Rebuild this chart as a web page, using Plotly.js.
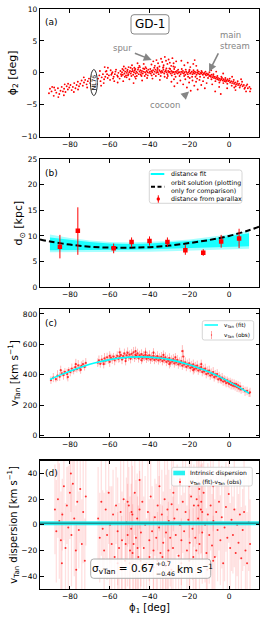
<!DOCTYPE html>
<html><head><meta charset="utf-8">
<script src="https://cdn.plot.ly/plotly-3.0.1.min.js"></script>
<style>html,body{margin:0;padding:0;background:#fff}#chart{width:266px;height:620px}</style>
</head><body><div id="chart"></div>
<script>
// ---------- DATA ----------
// (a) GD-1 member stars: [phi1, phi2] in deg
const starsA = [
[-90.5,-3.2],[-89.2,-2.9],[-88.1,-3.6],[-87.4,-2.7],[-86.8,-3.1],[-86.0,-2.4],[-85.3,-3.3],[-84.7,-2.8],[-84.1,-2.2],[-83.5,-2.9],
[-82.9,-2.5],[-82.2,-3.0],[-81.6,-2.1],[-81.0,-2.6],[-80.3,-2.3],[-79.7,-1.9],[-79.1,-2.7],[-78.5,-2.2],[-77.8,-1.6],[-77.2,-2.4],
[-76.6,-1.9],[-76.0,-1.4],[-75.4,-2.1],[-74.8,-1.7],[-74.1,-1.2],[-73.5,-2.0],[-72.9,-1.5],[-72.3,-1.1],[-71.6,-1.8],[-71.0,-1.3],
[-70.4,-0.9],[-69.8,-1.6],[-88.9,-2.2],[-83.0,-3.5],[-78.0,-3.0],
[-65.8,-0.9],[-65.2,-0.4],[-64.6,-1.3],[-64.0,-0.7],[-63.4,-0.2],[-62.8,-1.0],[-62.2,-0.6],[-61.6,0.3],[-61.0,-0.8],[-60.4,-0.4],
[-59.8,-1.1],[-59.2,-0.3],[-58.6,0.1],[-58.0,-0.6],[-57.4,-0.2],[-56.8,0.5],[-56.2,-0.4],[-55.6,0.0],[-55.0,-0.9],[-60.9,0.8],
[-63.0,-1.6],[-57.7,-1.3],[-59.5,0.4],[-62.0,0.2],[-64.9,0.3],[-56.0,-1.5],[-58.9,-0.1],[-61.3,-0.2],[-54.6,0.3],[-54.1,-0.5],
[-53.8,0.1],[-53.4,-0.3],[-53.0,0.4],[-52.6,-0.1],[-52.2,0.2],[-51.8,-0.4],[-51.4,0.0],[-51.0,0.5],[-50.6,-0.2],[-50.2,0.1],
[-49.8,0.3],[-49.4,-0.1],[-49.0,0.2],[-48.6,0.6],[-48.2,-0.3],[-47.8,0.1],[-47.4,0.4],[-47.0,-0.1],[-46.6,0.2],[-46.2,0.0],
[-45.8,0.5],[-45.4,-0.2],[-45.0,0.2],[-44.6,0.4],[-44.2,0.0],[-43.8,0.3],[-43.4,-0.1],[-43.0,0.2],[-42.6,0.6],[-42.2,0.1],
[-41.8,-0.2],[-41.4,0.3],[-41.0,0.1],[-40.6,0.5],[-40.2,0.0],[-52.9,1.0],[-50.1,-1.0],[-48.8,1.2],[-46.9,-0.9],[-45.1,1.1],
[-43.7,-1.2],[-42.0,0.9],[-51.5,-0.7],[-49.5,0.8],[-47.3,-0.6],[-44.8,0.9],[-53.2,-1.3],[-41.2,-0.8],[-46.0,1.5],[-48.0,-1.6],
[-52.0,0.7],[-44.0,-0.5],[-50.5,0.9],[-42.9,1.4],[-47.6,0.8],
[-39.8,0.2],[-39.4,-0.1],[-39.0,0.3],[-38.6,0.1],[-38.2,0.4],[-37.8,-0.2],[-37.4,0.2],[-37.0,0.5],[-36.6,0.0],[-36.2,0.3],
[-35.8,0.1],[-35.4,-0.2],[-35.0,0.4],[-34.6,0.2],[-34.2,0.0],[-33.8,0.3],[-33.4,0.1],[-33.0,0.5],[-32.6,-0.1],[-32.2,0.2],
[-31.8,0.4],[-31.4,0.1],[-31.0,-0.2],[-30.6,0.3],[-30.2,0.1],[-29.8,0.2],[-29.4,-0.1],[-29.0,0.3],[-28.6,0.0],[-28.2,0.2],
[-27.8,0.1],[-27.4,-0.2],[-27.0,0.2],[-26.6,0.0],[-26.2,0.3],[-25.8,-0.1],[-25.4,0.1],
[-39.0,1.3],[-38.1,1.8],[-37.3,1.1],[-36.5,2.0],[-35.7,1.5],[-35.0,1.0],[-34.2,2.2],[-33.6,1.7],[-32.9,1.2],[-32.3,2.5],
[-31.7,1.9],[-31.0,1.4],[-30.4,2.1],[-29.8,1.6],[-29.1,1.1],[-28.5,2.3],[-27.9,1.5],[-27.2,0.9],[-26.6,1.8],[-33.0,0.9],
[-36.0,0.8],[-30.0,0.7],[-28.0,1.0],[-24.0,1.9],[-22.5,1.2],[-20.8,1.6],[-19.5,0.9],[-18.0,1.4],[-16.5,1.1],[-17.3,2.0],
[-38.5,-0.9],[-34.8,-1.1],[-31.2,-0.8],[-27.7,-1.0],
[-24.8,0.1],[-24.4,-0.2],[-24.0,0.2],[-23.6,0.0],[-23.2,0.3],[-22.8,-0.1],[-22.4,0.1],[-22.0,-0.3],[-21.6,0.2],[-21.2,0.0],
[-20.8,-0.2],[-20.4,0.1],[-20.0,0.3],[-19.6,-0.1],[-19.2,0.0],[-18.8,0.2],[-18.4,-0.2],[-18.0,0.1],[-17.6,-0.1],[-17.2,0.2],
[-16.8,0.0],[-16.4,-0.3],[-16.0,0.1],[-15.6,-0.1],[-15.2,0.2],[-14.8,-0.2],[-14.4,0.0],[-14.0,-0.1],[-13.6,0.1],[-13.2,-0.3],
[-12.8,-0.1],[-12.4,0.0],[-12.0,-0.2],[-11.6,-0.4],[-11.2,-0.1],[-10.8,-0.3],[-10.4,-0.2],[-10.0,-0.5],
[-24.5,-1.2],[-23.1,-1.8],[-22.0,-1.0],[-21.2,-2.3],[-20.1,-1.5],[-19.3,-2.8],[-18.4,-1.2],[-17.5,-2.0],[-16.6,-1.4],[-15.8,-2.6],
[-14.9,-1.1],[-14.0,-1.9],[-13.1,-1.3],[-12.2,-2.4],[-11.3,-1.6],[-26.0,-1.6],[-27.5,-2.1],[-29.0,-1.4],[-19.8,-0.8],[-16.1,-0.9],
[-9.6,-0.4],[-9.2,-0.6],[-8.8,-0.3],[-8.4,-0.7],[-8.0,-0.5],[-7.6,-0.8],[-7.2,-0.6],[-6.8,-0.9],[-6.4,-0.7],[-6.0,-1.0],
[-5.6,-0.8],[-5.2,-1.1],[-4.8,-0.9],[-4.4,-1.2],[-4.0,-1.0],[-3.6,-0.8],[-3.2,-1.2],[-2.8,-1.0],[-2.4,-1.3],[-2.0,-1.1],
[-1.6,-1.4],[-1.2,-1.2],[-0.8,-1.0],[-0.4,-1.3],[0.0,-1.2],[0.5,-1.5],[1.0,-1.3],[1.5,-1.6],[2.0,-1.4],[2.5,-1.7],
[3.0,-1.5],[3.5,-1.8],[4.0,-1.6],[4.5,-1.9],[5.0,-1.7],[5.6,-2.0],[6.2,-1.8],[6.8,-2.1],[7.4,-1.9],[8.0,-2.3],
[8.7,-2.0],[9.4,-2.4],[10.2,-2.2],[10.8,-2.5],
[-8.5,-1.8],[-6.5,0.2],[-5.0,-2.2],[-3.0,-0.1],[-1.0,-2.4],[1.5,-0.6],[3.2,-2.7],[6.0,-1.0],[8.5,-2.9],[-7.0,-2.9],
[-4.2,-3.3],[2.6,-2.3],[-9.0,0.4],
[-58.3,-0.9],[-57.1,0.2],[-55.9,-0.6],[-54.3,-0.2],[-53.6,0.6],[-52.4,-0.6],[-51.2,0.3],[-50.8,-0.4],[-49.1,-0.5],[-48.4,0.3],
[-47.1,0.6],[-46.4,-0.5],[-45.6,0.8],[-44.4,-0.3],[-43.2,0.7],[-42.4,-0.5],[-41.6,0.7],[-40.9,-0.4],[-39.6,0.6],[-38.9,-0.4],
[-37.6,0.8],[-36.8,-0.5],[-35.9,0.6],[-34.4,-0.5],[-33.2,0.8],[-32.4,-0.6],[-31.5,0.7],[-30.8,-0.5],[-29.6,0.6],[-28.8,-0.4],
[-27.6,0.6],[-26.9,-0.6],[-25.6,0.5],[-24.9,-0.5],[-23.8,0.6],[-22.6,-0.5],[-21.8,0.5],[-20.6,-0.6],[-19.9,0.5],[-18.6,-0.6],
[-17.9,0.4],[-16.9,-0.6],[-15.9,0.4],[-14.6,-0.6],[-13.9,0.3],[-12.6,-0.7],[-11.9,0.2],[-10.6,-0.8],[-9.9,0.1],[-8.9,-1.0],
[-7.9,-0.2],[-6.9,-1.3],[-5.9,-0.5],[-4.9,-1.5],[-3.9,-0.6],[-2.9,-1.6],[-1.9,-0.8],[-0.9,-1.7],[0.3,-0.9],[1.3,-2.0],
[2.3,-1.1],[3.3,-2.1],[4.3,-1.3],[5.3,-2.3],[6.5,-1.4],[7.7,-2.5],[9.1,-1.8],[10.5,-2.9],[-66.5,-1.8],[-64.3,-2.0],
[-62.5,0.9],[-67.1,-0.3],[-87.9,-2.3],[-85.8,-3.8],[-80.9,-1.7],[-75.9,-2.6],[-73.0,-0.7],[-71.3,-2.3],[-90.0,-2.5],[-82.6,-1.8]
];

// (b) distances
const dfitPhi1   = [-90, -80, -70, -60, -50, -40, -30, -20, -10, 0, 10];
const dfitOuterHi= [10.3, 9.6, 9.1, 8.8, 8.7, 8.8, 9.0, 9.3, 9.8, 10.3, 11.0];
const dfitOuterLo= [6.8, 6.8, 6.8, 6.8, 6.9, 6.9, 7.0, 7.1, 7.2, 7.4, 7.5];
const dfitInnerHi= [9.7, 9.2, 8.8, 8.5, 8.4, 8.5, 8.7, 9.0, 9.4, 9.9, 10.5];
const dfitInnerLo= [7.2, 7.2, 7.2, 7.3, 7.3, 7.4, 7.5, 7.6, 7.7, 7.9, 8.0];
const orbitPhi1  = [-95, -90, -80, -70, -60, -50, -40, -30, -20, -10, 0, 10, 15];
const orbitDist  = [9.3, 8.9, 8.3, 7.9, 7.7, 7.7, 7.8, 8.1, 8.6, 9.2, 10.0, 11.1, 11.8];
const parPhi1    = [-85, -76, -58, -49, -40, -31, -22, -13, -4, 5];
const parDist    = [7.9, 11.0, 7.6, 8.8, 9.0, 8.8, 7.2, 6.7, 8.9, 9.5];
const parErrHi   = [2.3, 4.6, 0.9, 0.9, 0.9, 0.9, 1.0, 0.7, 1.3, 1.9];
const parErrLo   = [2.3, 4.7, 1.0, 1.0, 0.9, 0.9, 0.9, 0.6, 1.2, 1.9];

// (c) tangential velocity
const fitPhi1 = [-90,-85,-80,-75,-70,-65,-60,-55,-50,-45,-40,-35,-30,-25,-20,-15,-10,-5,0,5,10];
const fitVtan = [370,398,424,448,469,486,500,510,516,518,516,510,500,485,466,443,418,388,354,318,279];
// [phi1, vtan, err]
const vtanObs = [
[-89.5,365,25],[-88.3,382,30],[-87.0,371,20],[-86.2,395,35],[-85.1,388,28],[-84.0,410,22],[-83.2,398,30],[-82.5,420,25],
[-81.4,405,35],[-80.6,430,20],[-79.8,418,28],[-79.0,441,33],[-78.1,428,25],[-77.3,450,30],[-76.5,437,22],[-75.8,462,35],
[-75.0,445,26],[-74.2,458,30],[-73.4,470,28],[-72.6,452,24],[-72.0,478,32],[-84.6,430,30],[-77.0,470,35],[-81.0,385,28],[-74.6,432,25],
[-66.0,480,28],[-65.4,495,32],[-64.7,472,25],[-64.0,500,30],[-63.3,488,22],[-62.6,508,35],[-62.0,493,28],[-61.3,515,30],
[-60.7,497,25],[-60.0,485,33],[-59.4,512,27],[-58.7,502,30],[-58.1,520,24],[-57.5,495,32],[-56.8,510,28],[-56.2,525,30],
[-55.6,505,25],[-55.0,518,35],[-54.4,530,28],[-53.8,500,30],[-53.2,522,25],[-52.6,540,32],[-52.0,510,28],[-51.5,528,30],
[-51.0,545,35],[-50.5,515,25],[-50.0,532,28],[-49.5,505,30],[-49.0,538,32],[-48.5,520,25],[-48.0,548,35],[-47.5,512,28],
[-47.0,530,30],[-46.5,522,25],[-46.0,540,32],[-45.5,508,28],[-45.0,528,30],[-44.5,518,25],[-44.0,535,33],[-43.5,510,28],
[-43.0,525,30],[-42.5,515,24],[-42.0,532,32],[-41.5,505,27],[-41.0,522,30],[-40.5,512,25],[-40.0,528,33],[-39.5,500,28],
[-39.0,518,30],[-38.5,508,24],[-38.0,525,32],[-37.5,498,28],[-37.0,515,30],[-36.5,505,25],[-36.0,522,33],[-35.5,495,28],
[-35.0,512,30],[-34.5,502,25],[-34.0,518,32],[-33.5,490,28],[-33.0,508,30],[-32.5,498,24],[-32.0,515,33],[-31.5,485,28],
[-31.0,502,30],[-30.5,492,25],[-30.0,510,32],[-29.5,480,28],[-29.0,498,30],[-28.5,488,25],[-28.0,503,33],[-27.5,475,28],
[-27.0,492,30],[-26.5,482,24],[-26.0,498,32],[-25.5,468,28],[-25.0,485,30],[-24.5,475,25],[-24.0,490,33],[-23.5,460,28],
[-23.0,478,30],[-22.5,468,25],[-22.0,482,32],[-21.5,452,28],[-21.0,470,30],[-20.5,460,24],[-20.0,475,33],[-19.5,445,28],
[-19.0,462,30],[-18.5,450,25],[-18.0,468,32],[-17.5,438,28],[-17.0,455,30],[-16.5,442,25],[-16.0,460,33],[-15.5,428,28],
[-15.0,445,30],[-14.5,435,24],[-14.0,450,32],[-13.5,418,28],[-13.0,435,30],[-12.5,422,25],[-12.0,440,33],[-11.5,405,28],
[-11.0,425,30],[-10.5,410,25],[-10.0,428,32],[-9.5,395,28],[-9.0,412,30],[-8.5,400,25],[-8.0,418,33],[-7.5,384,28],
[-7.0,402,30],[-6.5,390,24],[-6.0,405,32],
[-55.0,548,30],[-47.0,555,30],[-38.0,545,30],[-52.0,490,28],[-44.0,495,25],[-33.0,530,30],[-27.0,515,28],[-23.5,555,40],
[-23.0,520,45],[-18.0,430,28],[-14.0,470,30],[-60.0,525,30],[-63.0,470,28],[-42.0,548,30],[-30.0,470,28],
[-5.5,370,25],[-5.0,390,30],[-4.5,376,28],[-4.0,365,25],[-3.5,382,30],[-3.0,356,28],[-2.5,372,25],[-2.0,360,30],
[-1.5,346,28],[-1.0,364,25],[-0.5,350,30],[0.0,340,28],[0.5,356,25],[1.0,334,30],[1.5,346,28],[2.0,328,25],
[2.5,340,30],[3.0,325,28],[3.5,338,25],[4.0,318,30],[4.5,330,28],[5.0,310,25],[5.5,322,30],[6.0,304,28],
[7.0,306,25],[8.0,292,30],[9.0,294,28],[10.0,280,25],[10.5,285,30]
];

// (d) residuals v_Tan(fit) - v_Tan(obs): [phi1, dv, err]
const vtanResid = [
[-87.5,12,35],[-86.8,-5,40],[-86.0,20,30],[-85.3,3,45],[-84.5,-12,38],[-83.8,8,28],[-83.0,30,42],[-82.2,-18,35],
[-81.5,15,30],[-80.8,-2,48],[-80.0,25,36],[-79.2,-8,40],[-78.5,32,30],[-77.8,5,45],[-77.0,-20,35],[-76.3,18,38],
[-75.5,-4,30],[-74.8,28,42],[-74.0,-15,35],[-73.3,10,40],[-72.5,-28,33],[-72.0,22,38],[-84.0,-30,40],[-79.5,40,30],[-76.8,-35,35],
[-65.8,5,40],[-65.0,-10,35],[-64.2,18,42],[-63.5,-3,30],[-62.8,-20,45],[-62.0,12,38],[-61.3,-8,35],[-60.5,25,40],
[-59.8,0,30],[-59.0,-15,45],[-58.3,8,35],[-57.5,-25,40],[-56.8,15,30],[-56.0,-5,42],[-55.3,-18,35],[-54.5,10,40],
[-53.8,-12,38],[-53.0,20,32],[-52.3,-28,45],[-51.6,2,35],[-51.0,-8,40],[-50.4,15,30],[-49.8,-20,42],[-49.2,-3,35],
[-48.6,8,38],[-48.0,-15,40],[-47.4,25,33],[-46.8,-10,45],[-46.2,5,35],[-45.6,-25,40],[-45.0,12,30],[-44.3,-6,42],
[-43.6,18,35],[-42.9,-18,40],[-42.2,0,38],[-41.5,-30,35],[-40.8,10,40],[-40.1,-12,32],[-39.4,22,45],[-38.7,-5,35],
[-38.0,-20,40],[-37.3,6,30],[-36.6,-10,42],[-35.9,15,35],[-35.2,-2,40],[-34.5,-22,38],[-33.8,8,35],[-33.1,-14,40],
[-32.4,20,30],[-31.7,-6,45],[-31.0,-28,35],[-30.3,3,40],[-29.6,-10,38],[-28.9,16,35],[-28.2,-18,40],[-27.5,5,32],
[-26.8,-8,42],[-26.1,12,35],[-25.4,-24,40],[-24.7,0,38],[-24.0,-12,35],[-23.3,18,40],[-22.6,-5,30],[-21.9,10,45],
[-21.2,-20,35],[-20.5,4,40],[-19.8,-14,38],[-19.1,22,35],[-18.4,-3,40],[-17.7,15,32],[-17.0,-10,42],[-16.3,20,35],
[-15.6,5,40],[-14.9,-15,38],[-14.2,12,35],[-13.5,-6,40],[-12.8,25,30],[-12.1,0,45],[-11.4,-22,35],[-10.7,8,40],
[-10.0,-8,38],[-9.3,15,35],[-8.6,-16,40],[-7.9,3,30],[-7.2,-25,45],[-6.5,10,35],[-5.8,-4,40],[-5.1,18,38],
[-4.4,-12,35],[-3.7,6,40],[-3.0,-30,32],[-2.3,-2,42],[-1.6,14,35],[-0.9,-10,40],[-0.2,24,38],[0.5,-18,35],
[1.2,4,40],[1.9,-8,30],[2.6,12,45],[3.3,-22,35],[4.0,0,40],[4.7,-14,38],[5.4,8,35],[6.1,-26,40],
[6.8,-4,32],[7.5,10,42],[8.2,-20,35],[9.0,-30,40],[9.8,2,38],[10.5,-15,35],
[-52.0,-15,35],[-50.0,-30,40],[-48.5,-22,38],[-47.0,-35,35],[-46.0,-18,40],[-44.5,-28,30],[-51.0,18,35],[-49.0,10,42],
[-33.5,-25,40],[-32.0,-32,35],[-30.5,-20,38],[-29.0,-35,35],[-31.0,12,40],[-28.0,25,30],[-15.5,15,38],[-15.0,28,35],
[-14.0,18,40],[-16.5,-20,35],[-13.5,10,38],[-56.0,-30,40],[-54.0,-35,42],[-40.0,-25,35],[-38.0,-33,40],[-36.0,-28,38],
[-24.0,-30,35],[-20.0,-28,40],[-18.0,-25,38],[-11.0,-35,40],[-8.0,-28,35],[-60.0,-38,40],[-45.0,35,38],[-35.0,30,35],
[-20.0,30,40],[-8.0,30,35]
];
const dispPhi1 = [-95, 15];
const dispLo   = [-0.4, -0.4];
const dispHi   = [2.9, 2.9];
const dispMid  = [1.2, 1.2];

// ---------- GEOMETRY HELPERS ----------
const ML = 40, MR = 7, MT = 9, MB = 31, FW = 266, FH = 620;
const PW = FW - ML - MR, PH = FH - MT - MB;
const X = px => (px - ML) / PW;
const Y = py => (FH - MB - py) / PH;
function rrect(x0, y0, x1, y1, r) {
  return `M${X(x0 + r)},${Y(y0)} L${X(x1 - r)},${Y(y0)} Q${X(x1)},${Y(y0)} ${X(x1)},${Y(y0 + r)} ` +
         `L${X(x1)},${Y(y1 - r)} Q${X(x1)},${Y(y1)} ${X(x1 - r)},${Y(y1)} L${X(x0 + r)},${Y(y1)} ` +
         `Q${X(x0)},${Y(y1)} ${X(x0)},${Y(y1 - r)} L${X(x0)},${Y(y0 + r)} Q${X(x0)},${Y(y0)} ${X(x0 + r)},${Y(y0)} Z`;
}
const FONT = 'DejaVu Sans, sans-serif';
const red = '#ff0000', cyan = '#00ffff';

// ---------- TRACES ----------
const traces = [
  // (a)
  { x: starsA.map(p => p[0]), y: starsA.map(p => p[1]), type: 'scatter', mode: 'markers',
    marker: { color: red, size: 1.9, line: { width: 0 } }, xaxis: 'x', yaxis: 'y' },
  // (b) distance-fit band (outer, faint)
  { x: dfitPhi1, y: dfitOuterLo, mode: 'lines', line: { width: 0, color: cyan }, xaxis: 'x2', yaxis: 'y2' },
  { x: dfitPhi1, y: dfitOuterHi, mode: 'lines', line: { width: 0, color: cyan }, fill: 'tonexty',
    fillcolor: 'rgba(0,255,255,0.35)', xaxis: 'x2', yaxis: 'y2' },
  { x: dfitPhi1, y: dfitInnerLo, mode: 'lines', line: { width: 0, color: cyan }, xaxis: 'x2', yaxis: 'y2' },
  { x: dfitPhi1, y: dfitInnerHi, mode: 'lines', line: { width: 0, color: cyan }, fill: 'tonexty',
    fillcolor: 'rgba(0,255,255,0.85)', xaxis: 'x2', yaxis: 'y2' },
  { x: orbitPhi1, y: orbitDist, mode: 'lines', line: { color: '#000', width: 2, dash: '6px,3px', shape: 'spline' },
    xaxis: 'x2', yaxis: 'y2' },
  { x: parPhi1, y: parDist, mode: 'markers', marker: { color: red, size: 4.5, symbol: 'square' },
    error_y: { type: 'data', symmetric: false, array: parErrHi, arrayminus: parErrLo, color: red, thickness: 1, width: 0 },
    xaxis: 'x2', yaxis: 'y2' },
  // (c)
  { x: vtanObs.map(p => p[0]), y: vtanObs.map(p => p[1]), mode: 'markers',
    marker: { color: red, size: 2.3, opacity: 0.75 },
    error_y: { type: 'data', array: vtanObs.map(p => p[2]), color: 'rgba(255,0,0,0.28)', thickness: 1, width: 0 },
    xaxis: 'x3', yaxis: 'y3' },
  { x: fitPhi1, y: fitVtan, mode: 'lines', line: { color: cyan, width: 1.6, shape: 'spline' }, xaxis: 'x3', yaxis: 'y3' },
  // (d)
  { x: vtanResid.map(p => p[0]), y: vtanResid.map(p => p[1]), mode: 'markers',
    marker: { color: red, size: 2, opacity: 0.8 },
    error_y: { type: 'data', array: vtanResid.map(p => p[2]), color: 'rgba(255,0,0,0.12)', thickness: 1.3, width: 0 },
    xaxis: 'x4', yaxis: 'y4' },
  { x: dispPhi1, y: dispLo, mode: 'lines', line: { width: 0, color: cyan }, xaxis: 'x4', yaxis: 'y4' },
  { x: dispPhi1, y: dispHi, mode: 'lines', line: { width: 0, color: cyan }, fill: 'tonexty',
    fillcolor: 'rgba(0,240,240,0.85)', xaxis: 'x4', yaxis: 'y4' },
  { x: dispPhi1, y: dispMid, mode: 'lines', line: { width: 1.4, color: '#1f8f8f' }, xaxis: 'x4', yaxis: 'y4' }
];
traces.forEach(t => { t.type = 'scatter'; t.showlegend = false; t.hoverinfo = 'skip'; });

// ---------- AXES ----------
const tickFont = { family: FONT, size: 7.5, color: '#000' };
function xax(anchor, title) {
  const a = { domain: [0, 1], anchor: anchor, range: [-95, 15], tickvals: [-80, -60, -40, -20, 0],
    ticks: 'inside', ticklen: 3.5, tickwidth: 1, tickcolor: '#000', mirror: 'ticks', showline: true,
    linecolor: '#000', linewidth: 1.3, showgrid: false, zeroline: false, tickfont: tickFont };
  if (title) a.title = { text: title, font: { family: FONT, size: 10, color: '#000' }, standoff: 3 };
  return a;
}
function yax(anchor, dom, range, tv, title, fs) {
  return { domain: dom, anchor: anchor, range: range, tickvals: tv,
    ticks: 'inside', ticklen: 3.5, tickwidth: 1, tickcolor: '#000', mirror: 'ticks', showline: true,
    linecolor: '#000', linewidth: 1.3, showgrid: false, zeroline: false, tickfont: tickFont,
    title: { text: title, font: { family: FONT, size: fs, color: '#000' }, standoff: 2 } };
}

// ---------- SHAPES ----------
const circ = (cx, cy, r, col) => ({ type: 'circle', xref: 'paper', yref: 'paper', layer: 'above',
  x0: X(cx - r), x1: X(cx + r), y0: Y(cy + r), y1: Y(cy - r), fillcolor: col, line: { width: 0 } });
const seg = (x0, y0, x1, y1, col, w, dash) => ({ type: 'line', xref: 'paper', yref: 'paper', layer: 'above',
  x0: X(x0), y0: Y(y0), x1: X(x1), y1: Y(y1), line: { color: col, width: w, dash: dash || 'solid' } });
const shapes = [
  { type: 'path', xref: 'paper', yref: 'paper', layer: 'above', path: rrect(131, 14.7, 169, 34, 3),
    fillcolor: '#fff', line: { color: '#888', width: 1 } },
  { type: 'circle', xref: 'x', yref: 'y', layer: 'above', x0: -69.7, x1: -66.2, y0: -3.55, y1: 0.52,
    fillcolor: '#fff', line: { color: '#000', width: 0.8 } },
  // legend (b)
  { type: 'path', xref: 'paper', yref: 'paper', layer: 'above', path: rrect(149.3, 170, 242, 203.3, 2.5),
    fillcolor: 'rgba(255,255,255,0.85)', line: { color: '#cccccc', width: 0.8 } },
  seg(150.7, 174, 164.3, 174, cyan, 2),
  seg(151, 186.7, 164.3, 186.7, '#000', 2, '4px,2.5px'),
  seg(158.3, 195.3, 158.3, 202.7, red, 1),
  circ(158.3, 199, 1.7, red),
  // legend (c)
  { type: 'path', xref: 'paper', yref: 'paper', layer: 'above', path: rrect(202.3, 320.7, 253.7, 340, 2),
    fillcolor: 'rgba(255,255,255,0.85)', line: { color: '#cccccc', width: 0.8 } },
  seg(204.5, 325, 218, 325, cyan, 1.5),
  seg(211.5, 331, 211.5, 339, 'rgba(255,0,0,0.35)', 1),
  circ(211.5, 335, 0.7, 'rgba(255,0,0,0.6)'),
  // legend (d)
  { type: 'path', xref: 'paper', yref: 'paper', layer: 'above', path: rrect(171.7, 467.3, 252.3, 486, 2),
    fillcolor: 'rgba(255,255,255,0.85)', line: { color: '#cccccc', width: 0.8 } },
  { type: 'rect', xref: 'paper', yref: 'paper', layer: 'above', x0: X(173.3), x1: X(185), y0: Y(475.3), y1: Y(470.7),
    fillcolor: 'rgba(0,240,240,0.85)', line: { width: 0 } },
  seg(180, 478.5, 180, 485.5, 'rgba(255,0,0,0.35)', 1),
  circ(180, 482, 0.9, red),
  // sigma box (d)
  { type: 'path', xref: 'paper', yref: 'paper', layer: 'above', path: rrect(90.7, 559, 210.7, 578.3, 3),
    fillcolor: 'rgba(255,255,255,0.85)', line: { color: '#aaaaaa', width: 1 } }
];

// ---------- ANNOTATIONS ----------
const gray = '#858585';
const txt = (text, px, py, size, opts) => Object.assign({ text: text, xref: 'paper', yref: 'paper',
  x: X(px), y: Y(py), xanchor: 'left', yanchor: 'middle', showarrow: false, borderpad: 0,
  font: { family: FONT, size: size, color: '#000' } }, opts || {});
const arrow = (hx, hy, tx, ty) => ({ text: '', xref: 'x', yref: 'y', axref: 'x', ayref: 'y',
  x: hx, y: hy, ax: tx, ay: ty, showarrow: true, arrowcolor: gray, arrowwidth: 1.6, arrowhead: 2, arrowsize: 1 });
const annotations = [
  txt('(a)', 44, 22, 9), txt('(b)', 44, 172.7, 9), txt('(c)', 44, 322.7, 9), txt('(d)', 44, 473.3, 9),
  txt('GD-1', 150, 24.3, 12, { xanchor: 'center' }),
  txt('spur', 122.7, 47.7, 8.5, { xanchor: 'center', font: { family: FONT, size: 8.5, color: gray } }),
  txt('main<br>stream', 219, 40.3, 8.5, { align: 'left', font: { family: FONT, size: 8.5, color: gray } }),
  txt('cocoon', 165, 105, 8.5, { xanchor: 'center', font: { family: FONT, size: 8.5, color: gray } }),
  arrow(-38.9, 2.03, -48.1, 3.17), arrow(-10.1, 0.16, -5.05, 3.28), arrow(-20.1, -2.9, -23.8, -3.95),
  { text: 'NL76', xref: 'x', yref: 'y', x: -67.95, y: -1.5, textangle: -90, showarrow: false,
    font: { family: FONT, size: 6, color: '#000' } },
  // legend (b)
  txt('distance fit', 170, 174, 6.3),
  txt('orbit solution (plotting<br>only for comparison)', 170, 186.7, 6.3, { align: 'left' }),
  txt('distance from parallax', 170, 199, 6.3),
  // legend (c)
  txt('v<sub>Tan</sub> (fit)', 222.5, 325, 5.6),
  txt('v<sub>Tan</sub> (obs)', 222.5, 335, 5.6),
  // legend (d)
  txt('Intrinsic dispersion', 188.5, 473, 6),
  txt('v<sub>Tan</sub> (fit)-v<sub>Tan</sub> (obs)', 188.5, 482, 5.8),
  // sigma box
  txt('σ<sub>vTan</sub> = 0.67', 154.5, 568.6, 10.5, { xanchor: 'right' }),
  txt('+0.7', 155, 563.6, 6.2),
  txt('−0.46', 155, 573, 6.2),
  txt('km s<sup>−1</sup>', 175.5, 568.6, 10.5)
];

const layout = {
  width: FW, height: FH, margin: { l: ML, r: MR, t: MT, b: MB },
  paper_bgcolor: '#fff', plot_bgcolor: '#fff', showlegend: false,
  font: { family: FONT, color: '#000' },
  xaxis: xax('y'), xaxis2: xax('y2'), xaxis3: xax('y3'), xaxis4: xax('y4', 'ϕ<sub>1</sub> [deg]'),
  yaxis: yax('x', [0.7798, 1], [-10, 10], [-10, -5, 0, 5, 10], 'ϕ<sub>2</sub> [deg]', 11),
  yaxis2: yax('x2', [0.5207, 0.7409], [0, 25], [0, 5, 10, 15, 20, 25], 'd<sub>⊙</sub> [kpc]', 11),
  yaxis3: yax('x3', [0.2621, 0.4822], [-8, 830], [0, 200, 400, 600, 800], 'v<sub>Tan</sub> [km s<sup>−1</sup>]', 10.5),
  yaxis4: yax('x4', [0, 0.2212], [-50, 50], [-40, -20, 0, 20, 40], 'v<sub>Tan</sub> dispersion [km s<sup>−1</sup>]', 10),
  shapes: shapes, annotations: annotations
};
Plotly.newPlot('chart', traces, layout, { staticPlot: true, displayModeBar: false });
</script>
</body></html>
